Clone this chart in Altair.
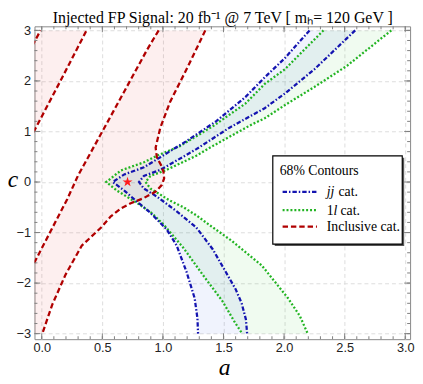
import altair as alt
import pandas as pd

# ---------------- data ----------------
# jj category, 68% contour: two boundary curves (a, c)
jj_outer_a = [2.21, 2.006, 1.84, 1.68, 1.438, 1.195, 0.978, 0.843, 0.681, 0.586, 0.681, 0.762, 0.897, 1.032, 1.114, 1.195, 1.262, 1.285, 1.29]
jj_outer_c = [3.0, 2.45, 2.07, 1.68, 1.20, 0.81, 0.49, 0.29, 0.15, 0.0, -0.17, -0.34, -0.61, -0.94, -1.26, -1.78, -2.30, -2.70, -3.0]
jj_inner_a = [2.587, 2.25, 2.006, 1.84, 1.546, 1.276, 1.11, 0.978, 0.843, 0.803, 0.843, 0.951, 1.114, 1.276, 1.411, 1.519, 1.60, 1.65, 1.685, 1.695]
jj_inner_c = [3.0, 2.23, 1.75, 1.46, 1.07, 0.65, 0.42, 0.24, 0.12, 0.0, -0.13, -0.29, -0.58, -0.90, -1.33, -1.78, -2.12, -2.40, -2.72, -3.0]

# 1l category
l1_outer_a = [2.325, 2.006, 1.84, 1.68, 1.41, 1.14, 0.951, 0.843, 0.654, 0.532, 0.62, 0.79, 0.91, 1.005, 1.168, 1.33, 1.492, 1.587, 1.654]
l1_outer_c = [3.0, 2.23, 1.94, 1.55, 1.10, 0.71, 0.52, 0.39, 0.23, 0.0, -0.17, -0.42, -0.62, -0.84, -1.30, -1.84, -2.36, -2.75, -3.0]
l1_inner_a = [2.885, 2.52, 2.25, 2.006, 1.84, 1.735, 1.41, 1.276, 1.03, 0.897, 0.857, 0.897, 1.06, 1.17, 1.276, 1.384, 1.56, 1.816, 2.033, 2.13, 2.195]
l1_inner_c = [3.0, 2.30, 1.88, 1.52, 1.26, 1.14, 0.71, 0.52, 0.24, 0.12, 0.0, -0.13, -0.37, -0.50, -0.66, -0.85, -1.15, -1.65, -2.30, -2.65, -3.0]

# Inclusive category (four boundary pieces, two bands)
inc_r1_a = [-0.11, -0.01]
inc_r1_c = [2.55, 3.0]
inc_r2_a = [-0.10, 0.15, 0.37]
inc_r2_c = [0.84, 1.98, 3.0]
inc_r3_a = [0.965, 0.87, 0.546, 0.30, 0.21, -0.06, -0.10]
inc_r3_c = [3.0, 2.62, 1.2, 0.13, -0.34, -1.59, -1.77]
inc_r4_a = [1.35, 1.195, 1.06, 0.978, 0.94, 0.95, 0.985, 1.005, 1.01, 0.99, 0.94, 0.84, 0.735, 0.655, 0.57, 0.49, 0.33, 0.195, 0.086, 0.005]
inc_r4_c = [3.0, 2.23, 1.59, 1.07, 0.68, 0.49, 0.33, 0.20, 0.07, -0.06, -0.19, -0.32, -0.42, -0.52, -0.68, -0.90, -1.26, -1.84, -2.43, -3.0]
band2_corner_a = [-0.12]
band2_corner_c = [-3.0]

# injected point
star_a = [0.708]
star_c = [0.0]

title_text = "Injected FP Signal: 20 fb\u207b\u00b9 @ 7 TeV [ m\u2095= 120 GeV ]"
x_ticks = [0.0, 0.5, 1.0, 1.5, 2.0, 2.5, 3.0]
y_ticks = [-3, -2, -1, 0, 1, 2, 3]

# ---------------- layout ----------------
W, H = 383, 319
XDOM = [-0.06, 3.04]
YDOM = [-3.11, 3.08]
xs = alt.Scale(domain=XDOM, nice=False, zero=False)
ys = alt.Scale(domain=YDOM, nice=False, zero=False)

RED = "#b00000"
BLUE = "#1414b0"
GREEN = "#22b422"

x_axis = alt.Axis(values=x_ticks, format=".1f", title=None, grid=True, gridDash=[4, 3],
                  gridColor="#dcdcdc", gridWidth=1, ticks=False, tickSize=0, domain=False,
                  labelFont="Liberation Sans", labelFontSize=13, labelColor="#222222",
                  labelPadding=3)
y_axis = alt.Axis(values=y_ticks, format="d", title=None, grid=True, gridDash=[4, 3],
                  gridColor="#dcdcdc", gridWidth=1, ticks=False, tickSize=0, domain=False,
                  labelFont="Liberation Sans", labelFontSize=13, labelColor="#222222",
                  labelPadding=4)

X = alt.X("a:Q", scale=xs, axis=x_axis)
Y = alt.Y("c:Q", scale=ys, axis=y_axis)


def curve_df(a, c):
    return pd.DataFrame({"a": a, "c": c, "i": list(range(len(a)))})


def poly_df(a1, c1, a2, c2, ea=(), ec=()):
    a = list(a1) + list(ea) + list(a2)[::-1]
    c = list(c1) + list(ec) + list(c2)[::-1]
    return curve_df(a, c)


def fill_layer(df, color, op):
    return alt.Chart(df).mark_line(fill=color, fillOpacity=op, strokeOpacity=0, clip=True).encode(
        x=X, y=Y, order=alt.Order("i:Q"))


def line_layer(a, c, color, dash):
    return alt.Chart(curve_df(a, c)).mark_line(color=color, strokeWidth=2.3, strokeDash=dash, clip=True).encode(
        x=X, y=Y, order=alt.Order("i:Q"))


fills = [
    fill_layer(poly_df(inc_r2_a, inc_r2_c, inc_r1_a, inc_r1_c), "#e03030", 0.08),
    fill_layer(poly_df(inc_r4_a, inc_r4_c, inc_r3_a, inc_r3_c, band2_corner_a, band2_corner_c), "#e03030", 0.08),
    fill_layer(poly_df(l1_outer_a, l1_outer_c, l1_inner_a, l1_inner_c), "#30c030", 0.07),
    fill_layer(poly_df(jj_outer_a, jj_outer_c, jj_inner_a, jj_inner_c), "#3050e0", 0.07),
]

DASH_G = [2, 2]
DASH_B = [4.5, 2, 1.5, 2]
DASH_R = [5.5, 3]

lines = [
    line_layer(l1_outer_a, l1_outer_c, GREEN, DASH_G),
    line_layer(l1_inner_a, l1_inner_c, GREEN, DASH_G),
    line_layer(jj_outer_a, jj_outer_c, BLUE, DASH_B),
    line_layer(jj_inner_a, jj_inner_c, BLUE, DASH_B),
    line_layer(inc_r1_a, inc_r1_c, RED, DASH_R),
    line_layer(inc_r2_a, inc_r2_c, RED, DASH_R),
    line_layer(inc_r3_a, inc_r3_c, RED, DASH_R),
    line_layer(inc_r4_a, inc_r4_c, RED, DASH_R),
]

star_path = "M0,-1L0.2245,-0.309L0.951,-0.309L0.363,0.118L0.588,0.809L0,0.382L-0.588,0.809L-0.363,0.118L-0.951,-0.309L-0.2245,-0.309Z"
star = alt.Chart(pd.DataFrame({"a": star_a, "c": star_c})).mark_point(
    shape=star_path, filled=True, color="#ff1a1a", size=115, opacity=1).encode(x=X, y=Y)

# ---------------- frame ticks (inward, major + minor) ----------------
x_minor = [round(0.1 * k, 1) for k in range(0, 31)]
y_minor = [round(-3.0 + 0.2 * k, 1) for k in range(0, 31)]
TICK = "#808080"


def xticks(vals, ln):
    d = pd.DataFrame({"a": vals})
    b = alt.Chart(d).mark_rule(color=TICK, strokeWidth=1).encode(x=X, y=alt.value(H), y2=alt.value(H - ln))
    t = alt.Chart(d).mark_rule(color=TICK, strokeWidth=1).encode(x=X, y=alt.value(0), y2=alt.value(ln))
    return [b, t]


def yticks(vals, ln):
    d = pd.DataFrame({"c": vals})
    l = alt.Chart(d).mark_rule(color=TICK, strokeWidth=1).encode(y=Y, x=alt.value(0), x2=alt.value(ln))
    r = alt.Chart(d).mark_rule(color=TICK, strokeWidth=1).encode(y=Y, x=alt.value(W), x2=alt.value(W - ln))
    return [l, r]


ticks = xticks(x_minor, 3) + xticks(x_ticks, 6) + yticks(y_minor, 3) + yticks(y_ticks, 6)

# ---------------- texts ----------------
one = pd.DataFrame({"k": [0]})


def txt(s, x, y, size=14, style="normal", align="left", font="Liberation Serif", color="black"):
    return alt.Chart(one).mark_text(text=s, font=font, fontSize=size, fontStyle=style, align=align,
                                     baseline="alphabetic", color=color).encode(
        x=alt.value(x), y=alt.value(y))


title = txt(title_text, 192, -3.3, size=16.2, align="center")
xlab = txt("a", 194, 356, size=24, style="italic", align="center")
ylab = txt("c", -22, 164, size=24, style="italic", align="center")

# ---------------- legend ----------------
LX0, LX1, LY0, LY1 = 243, 375, 132, 222
shadow = alt.Chart(one).mark_rect(color="#555555").encode(
    x=alt.value(LX0 + 2), x2=alt.value(LX1 + 2), y=alt.value(LY0 + 2), y2=alt.value(LY1 + 2))
box = alt.Chart(one).mark_rect(fill="white", stroke="black", strokeWidth=1.2).encode(
    x=alt.value(LX0), x2=alt.value(LX1), y=alt.value(LY0), y2=alt.value(LY1))

leg_y = [168.7, 187.3, 204.3]
leg_items = [(BLUE, DASH_B), (GREEN, DASH_G), (RED, DASH_R)]
leg_lines = [
    alt.Chart(one).mark_rule(color=col, strokeWidth=2.3, strokeDash=dash).encode(
        x=alt.value(253), x2=alt.value(288), y=alt.value(yy))
    for (col, dash), yy in zip(leg_items, leg_y)
]
leg_texts = [
    txt("68% Contours", 250, 152),
    txt("jj", 298, leg_y[0] + 4.6, style="italic"),
    txt("cat.", 310, leg_y[0] + 4.6),
    txt("1", 298, leg_y[1] + 4.6),
    txt("l", 305, leg_y[1] + 4.6, style="italic"),
    txt("cat.", 312, leg_y[1] + 4.6),
    txt("Inclusive cat.", 298, leg_y[2] + 4.6),
]

chart = alt.layer(
    *fills, *lines, star, *ticks, title, xlab, ylab, shadow, box, *leg_lines, *leg_texts
).properties(
    width=W, height=H,
    autosize=alt.AutoSizeParams(type="none"),
    padding={"left": 27, "top": 15, "right": 5, "bottom": 42},
).configure_view(stroke="#888888", strokeWidth=1)

chart.save("out.html", embed_options={"renderer": "svg", "actions": False})
